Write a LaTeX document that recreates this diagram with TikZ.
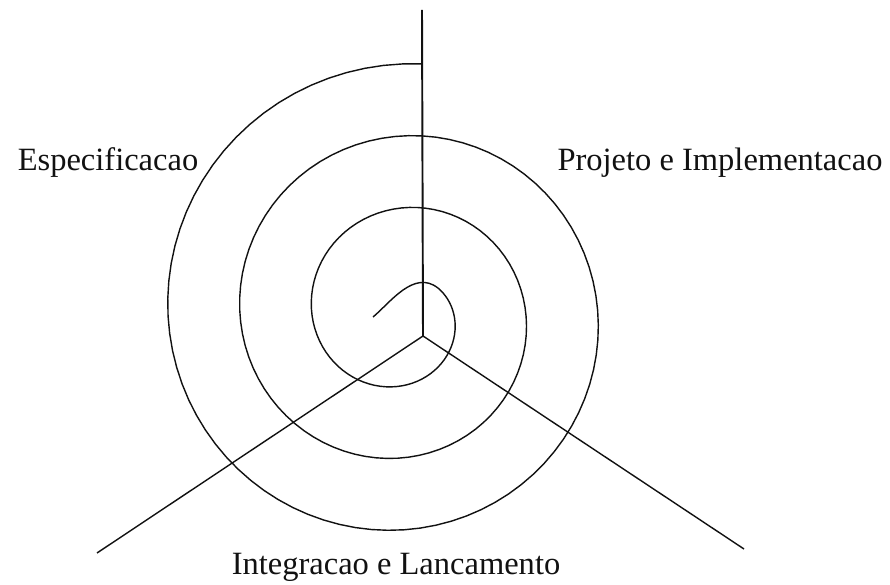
\documentclass[tikz,border=0pt]{standalone}
\usepackage{fontspec}
\setmainfont{Liberation Serif}
\usetikzlibrary{positioning}
\definecolor{inkblack}{HTML}{111111}

\begin{document}
\begin{tikzpicture}[x=0.02cm,y=0.02cm,font=\fontsize{18.5}{22}\selectfont]

  \tikzset{
    axisline/.style={inkblack,line width=1.1pt},
    legline/.style={inkblack,line width=0.8pt},
    spiralline/.style={inkblack,line width=0.8pt,line join=round},
    phaselabel/.style={inkblack,inner sep=0pt}
  }

  % =====================================================================
  % 1. FRAME & AXES
  % =====================================================================

  \useasboundingbox (0,0) rectangle (890,585);

  \coordinate (hub)    at (423,249);
  \coordinate (axtop)  at (422,575);
  \coordinate (axleft) at (97,32);
  \coordinate (axright) at (744,36);

  \draw[axisline] (hub) -- (axtop);
  \draw[legline] (hub) -- (axleft);
  \draw[legline] (hub) -- (axright);

  % =====================================================================
  % 2. SPIRAL (clockwise, outward)
  % =====================================================================

  \coordinate (spstart) at (373,268);
  \coordinate (spfirst) at (438.05,296.9);

  \draw[spiralline] (spstart) .. controls (390,282) and (414,316) .. (spfirst)
        -- plot[domain=0.15:3.015,samples=240,variable=\t]
        ({401 + (35+72*\t)*cos(90-360*\t)},
         {270 + (35+72*\t)*sin(90-360*\t)});

  % =====================================================================
  % 3. PHASE LABELS
  % =====================================================================

  \node[phaselabel] (espec) at (108,422) {Especificacao};
  \node[phaselabel] (projimpl) at (720,422) {Projeto e Implementacao};
  \node[phaselabel] (integ) at (396,18) {Integracao e Lancamento};

\end{tikzpicture}
\end{document}
